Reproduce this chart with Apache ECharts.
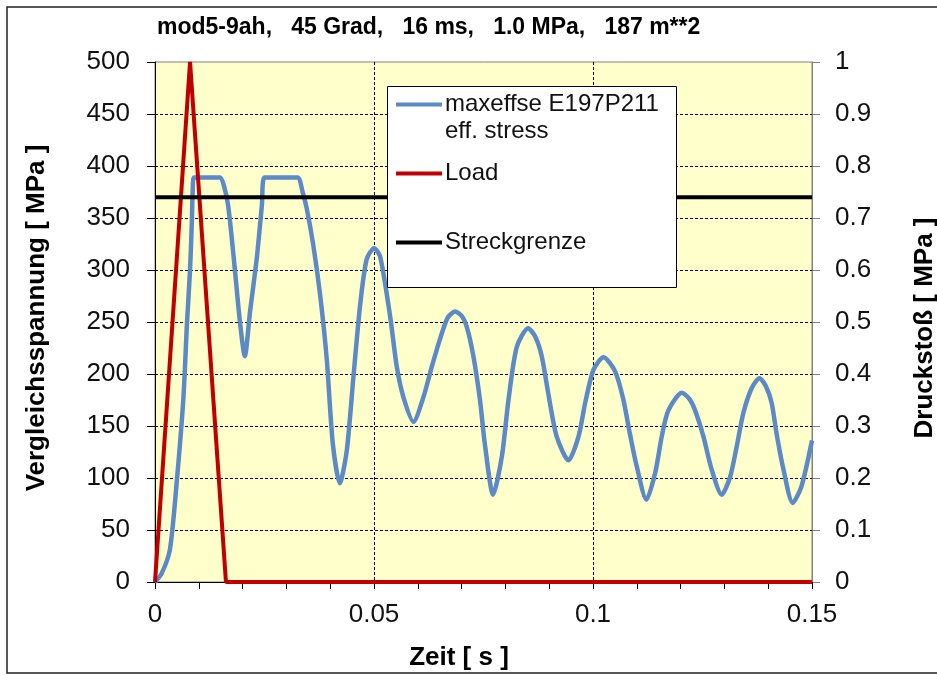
<!DOCTYPE html>
<html>
<head>
<meta charset="utf-8">
<script src="https://cdn.jsdelivr.net/npm/echarts@6/dist/echarts.min.js"></script>
<style>
  html, body { margin: 0; padding: 0; background: #ffffff; }
  #chart { width: 937px; height: 675px; }
</style>
</head>
<body>
<div id="chart"></div>
<script>
// Time axis samples [s] and effective stress [MPa] of element E197P211
const timeS = [
  0, 0.0015, 0.0034, 0.0050, 0.0065, 0.0073, 0.0080, 0.0084, 0.0086, 0.0089,
  0.0148, 0.0158, 0.0167, 0.0179, 0.0194, 0.0205, 0.0217, 0.0232, 0.0244, 0.0250,
  0.0325, 0.0337, 0.0346, 0.0361, 0.0377, 0.0392, 0.0406, 0.0422, 0.0438, 0.0453,
  0.0468, 0.0483, 0.0500, 0.0514, 0.0537, 0.0552, 0.0567, 0.0590, 0.0613, 0.0632,
  0.0651, 0.0668, 0.0685, 0.0700, 0.0712, 0.0727, 0.0742, 0.0753, 0.0772, 0.0792,
  0.0807, 0.0826, 0.0852, 0.0868, 0.0883, 0.0898, 0.0917, 0.0944, 0.0967, 0.0982,
  0.1001, 0.1024, 0.1050, 0.1069, 0.1084, 0.1100, 0.1122, 0.1142, 0.1157, 0.1172,
  0.1203, 0.1220, 0.1233, 0.1252, 0.1271, 0.1294, 0.1313, 0.1328, 0.1343, 0.1362,
  0.1380, 0.1395, 0.1408, 0.1419, 0.1435, 0.1456, 0.1476, 0.1500
];
const stressMPa = [
  0, 8, 31, 98, 178, 249, 300, 345, 375, 389,
  389, 380, 362, 315, 250, 217, 260, 310, 362, 389,
  389, 375, 360, 325, 276, 215, 133, 95, 127, 197,
  265, 310, 321, 313, 255, 207, 178, 154, 178, 207,
  234, 254, 260, 256, 245, 217, 175, 133, 84, 121,
  175, 226, 244, 236, 217, 181, 140, 117, 140, 172,
  204, 216, 203, 176, 143, 111, 79, 105, 140, 165,
  182, 176, 165, 140, 108, 84, 101, 130, 162, 186,
  196, 188, 172, 143, 108, 76, 92, 136
];

// Triangular pressure pulse (16 ms, 1.0 MPa peak)
const loadTimeS = [0, 0.008, 0.0162, 0.15];
const loadMPa = [0, 1.0, 0, 0];

// Yield strength (Streckgrenze)
const yieldTimeS = [0, 0.15];
const yieldMPa = [370, 370];

// Axis ranges and tick steps
const xRange = [0, 0.15], xStep = 0.05;
const stressRange = [0, 500], stressStep = 50;
const loadRange = [0, 1], loadStep = 0.1;

const titleText = 'mod5-9ah,   45 Grad,   16 ms,   1.0 MPa,   187 m**2';
const seriesNames = ['maxeffse E197P211\neff. stress', 'Load', 'Streckgrenze'];

const zip = (xs, ys) => xs.map((x, i) => [x, ys[i]]);

const FONT = '"Liberation Sans", Arial, sans-serif';
const dashed = { color: '#000', width: 1, type: [3, 2] };

const chart = echarts.init(document.getElementById('chart'), null, { renderer: 'canvas' });

// One legend per entry so each line sample sits at its own height
function legendFor(name, top, formatter) {
  return {
    show: true,
    data: [{ name: name, icon: 'rect' }],
    formatter: formatter || '{name}',
    left: 396,
    top: top,
    orient: 'vertical',
    padding: 0,
    itemWidth: 46,
    itemHeight: 4,
    itemGap: 0,
    selectedMode: false,
    z: 6,
    textStyle: { fontFamily: FONT, fontSize: 24, color: '#111', lineHeight: 27, padding: [0, 0, 0, -2] }
  };
}

chart.setOption({
  animation: false,
  backgroundColor: '#ffffff',
  grid: {
    left: 155, right: 125, top: 62, bottom: 93,
    show: true,
    backgroundColor: '#FFFFCC',
    borderColor: '#808080',
    borderWidth: 1,
    outerBoundsMode: 'none'
  },
  graphic: [
    { type: 'rect', z: 0, silent: true,
      shape: { x: 7, y: 7, width: 940, height: 666 },
      style: { fill: 'none', stroke: '#222', lineWidth: 1.5 } },
    { type: 'rect', z: 5, silent: true,
      shape: { x: 387.5, y: 86.5, width: 289, height: 201 },
      style: { fill: '#ffffff', stroke: '#000', lineWidth: 1 } },
    { type: 'text', z: 6, left: 157, top: 16, silent: true,
      style: { text: titleText, fontFamily: FONT, fontWeight: 'bold', fontSize: 23, fill: '#000' } },
    { type: 'text', z: 6, silent: true, x: 37, y: 318, rotation: Math.PI / 2,
      style: { text: 'Vergleichsspannung [ MPa ]', fontFamily: FONT, fontWeight: 'bold', fontSize: 26,
               fill: '#000', align: 'center', verticalAlign: 'middle' } },
    { type: 'text', z: 6, silent: true, x: 925, y: 328, rotation: Math.PI / 2,
      style: { text: 'Druckstoß [ MPa ]', fontFamily: FONT, fontWeight: 'bold', fontSize: 26,
               fill: '#000', align: 'center', verticalAlign: 'middle' } },
    { type: 'text', z: 6, silent: true, x: 459, y: 658,
      style: { text: 'Zeit [ s ]', fontFamily: FONT, fontWeight: 'bold', fontSize: 26,
               fill: '#000', align: 'center', verticalAlign: 'middle' } }
  ],
  legend: [
    legendFor(seriesNames[0], 64, ' \n{name}'),
    legendFor(seriesNames[1], 160),
    legendFor(seriesNames[2], 229)
  ],
  xAxis: {
    type: 'value',
    min: xRange[0], max: xRange[1], interval: xStep,
    axisLine: { show: true, onZero: false, lineStyle: { color: '#000', width: 1 } },
    axisTick: { show: true, length: 7, lineStyle: { color: '#000' } },
    minorTick: { show: true, splitNumber: 5, length: 7, lineStyle: { color: '#000' } },
    axisLabel: { fontFamily: FONT, fontSize: 26, color: '#111', margin: 20 },
    splitLine: { show: true, showMinLine: false, showMaxLine: false, lineStyle: dashed }
  },
  yAxis: [
    {
      type: 'value', position: 'left',
      min: stressRange[0], max: stressRange[1], interval: stressStep,
      axisLine: { show: true, lineStyle: { color: '#000', width: 1 } },
      axisTick: { show: true, length: 8, lineStyle: { color: '#000' } },
      axisLabel: { fontFamily: FONT, fontSize: 26, color: '#111', margin: 25 },
      splitLine: { show: true, showMinLine: false, showMaxLine: false, lineStyle: dashed }
    },
    {
      type: 'value', position: 'right',
      min: loadRange[0], max: loadRange[1], interval: loadStep,
      axisLine: { show: true, lineStyle: { color: '#808080', width: 1 } },
      axisTick: { show: true, length: 8, lineStyle: { color: '#808080' } },
      axisLabel: { fontFamily: FONT, fontSize: 26, color: '#111', margin: 23 },
      splitLine: { show: false }
    }
  ],
  series: [
    {
      name: seriesNames[0], type: 'line', yAxisIndex: 0,
      data: zip(timeS, stressMPa),
      symbol: 'none', smooth: 0.25,
      lineStyle: { color: '#5B8AC6', width: 4.5 },
      itemStyle: { color: '#5B8AC6' }
    },
    {
      name: seriesNames[1], type: 'line', yAxisIndex: 1,
      data: zip(loadTimeS, loadMPa),
      symbol: 'none',
      lineStyle: { color: '#C00000', width: 4 },
      itemStyle: { color: '#C00000' }
    },
    {
      name: seriesNames[2], type: 'line', yAxisIndex: 0,
      data: zip(yieldTimeS, yieldMPa),
      symbol: 'none',
      lineStyle: { color: '#000000', width: 4 },
      itemStyle: { color: '#000000' }
    }
  ]
});
</script>
</body>
</html>
